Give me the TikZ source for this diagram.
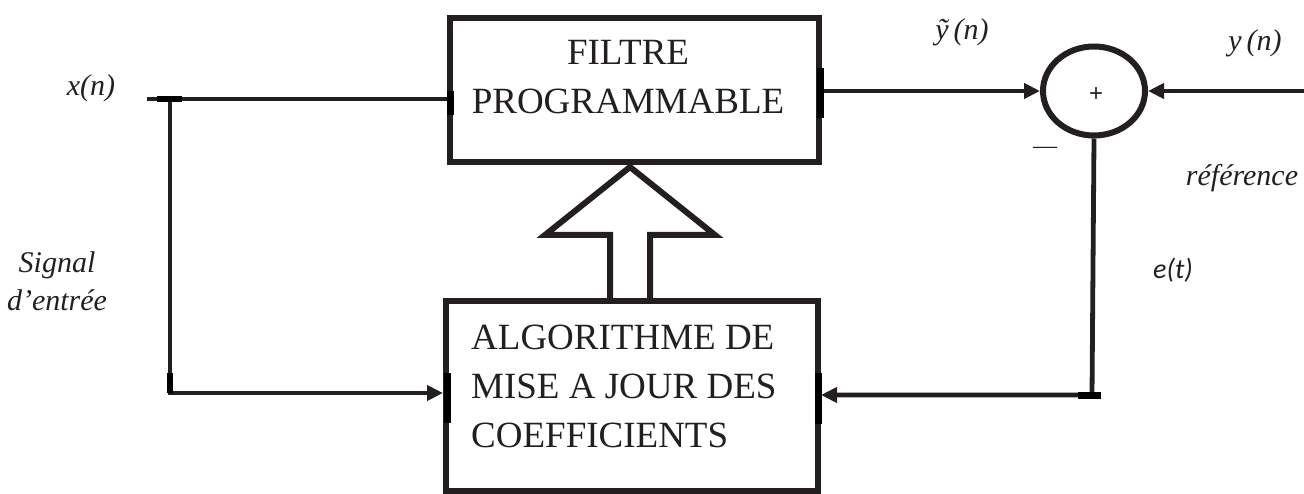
\documentclass[tikz,border=0pt]{standalone}
\usepackage{fontspec}
\setmainfont{Liberation Serif}[ItalicFont={Liberation Serif Italic}]
\newfontfamily\carlfont{Carlito}
\newfontfamily\sansplus{Liberation Sans}
\usetikzlibrary{arrows.meta,shapes.geometric}
\definecolor{ink}{RGB}{35,31,32}
\begin{document}
\begin{tikzpicture}[x=1pt,y=-1pt,
  blk/.style={draw=ink,line width=6pt,inner sep=0pt},
  wire/.style={draw=ink,line width=4.8pt},
  arr/.style={wire,-{Triangle[length=16pt,width=15pt]}},
  lbl/.style={font=\fontsize{30}{38}\selectfont\itshape,inner sep=0pt,text=ink},
  boxtext/.style={font=\fontsize{37}{49}\selectfont,inner sep=0pt,text=ink},
  bar/.style={draw=black,line width=7pt}]
\useasboundingbox (0,0) rectangle (1304,494);
% boxes
\node[blk,minimum width=369pt,minimum height=144pt] (filtre) at (634.5,90) {};
\node[boxtext,align=center,anchor=north] (ftxt) at (628,40) {FILTRE\\PROGRAMMABLE};
\node[blk,minimum width=372pt,minimum height=190pt] (algo) at (632,396) {};
\node[boxtext,align=left,anchor=north west] (atxt) at (471,325) {ALGORITHME DE\\MISE A JOUR DES\\COEFFICIENTS};
\node[blk,ellipse,minimum width=102pt,minimum height=89pt] (sum) at (1094,91) {};
\node[font=\sansplus\fontsize{24}{28}\selectfont,inner sep=0pt,text=ink] (plus) at (1096,95) {+};
% hollow arrow
\draw[ink,line width=6pt,line join=miter] (610,299) -- (610,235) -- (545,235) -- (630,167) -- (715,235) -- (650,235) -- (650,299);
% coordinates
\coordinate (xin) at (147,99);
\coordinate (br) at (170,99);
\coordinate (bl) at (170,393);
\coordinate (yin) at (1304,91);
\coordinate (ythick) at (1200,91);
\coordinate (corner) at (1092,395);
% connectors
\draw[wire] (xin) -- (filtre.west |- xin);
\draw[arr] (br) -- (bl) -- (algo.west |- bl);
\draw[arr] (filtre.east |- sum.west) -- (sum.west);
\draw[ink,line width=3.5pt] (yin) -- (ythick);
\draw[arr] (ythick) -- (sum.east);
\draw[arr] (sum.south) -- (corner) -- (algo.east |- corner);
% thick bars
\draw[bar] (450,91) -- (450,115);
\draw[bar] (820,68) -- (820,118);
\draw[bar] (447,373) -- (447,423);
\draw[bar] (818,373) -- (818,424);
\draw[bar] (1078,395) -- (1101,395);
\draw[black,line width=5.5pt] (170,373) -- (170,393);
\draw[black,line width=5.5pt] (157,99) -- (182,99);
% labels
\node[lbl] (xn) at (91,88) {x(n)};
\node[lbl] (yt) at (962,32) {ỹ\,(n)};
\node[lbl] (yn) at (1255,43) {y\,(n)};
\node[lbl] (ref) at (1242,178) {référence};
\node[lbl,font=\carlfont\itshape\fontsize{28}{34}\selectfont] (et) at (1173,270) {e(t)};
\node[lbl,align=center] (sig) at (57,281) {Signal\\d’entrée};
\node[font=\fontsize{24}{28}\selectfont,inner sep=0pt,text=ink] (minus) at (1045,150) {—};
\end{tikzpicture}
\end{document}
